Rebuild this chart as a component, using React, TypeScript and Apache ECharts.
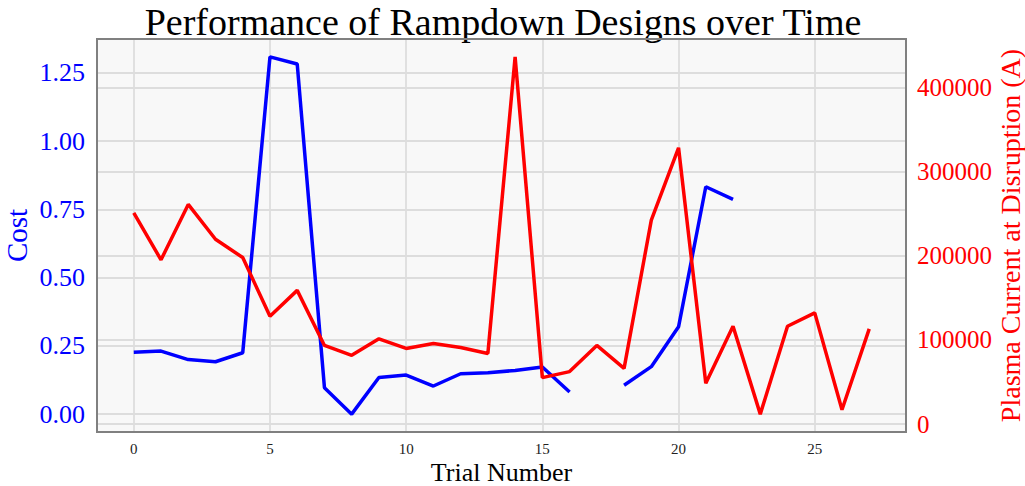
import React, { useEffect, useRef } from "react";
import * as echarts from "echarts";

const trials = [0, 1, 2, 3, 4, 5, 6, 7, 8, 9, 10, 11, 12, 13, 14, 15, 16, 17, 18, 19, 20, 21, 22, 23, 24, 25, 26, 27];
const costValues: (number | null)[] = [
  0.227, 0.231, 0.2, 0.192, 0.225, 1.309, 1.283, 0.097, 0.0, 0.134, 0.143, 0.103, 0.148, 0.152, 0.16, 0.173, 0.081,
  null, 0.106, 0.174, 0.32, 0.833, 0.787,
];
const currentValues = [
  251200, 195300, 261200, 219800, 198000, 128200, 159000, 93500, 81700, 101400, 89900, 95900, 91000, 84000, 436700,
  55200, 62400, 93500, 66300, 242600, 328600, 48500, 116300, 11800, 116300, 132200, 17000, 113200,
];
const xTicks = [0, 5, 10, 15, 20, 25];
const costTicks = [0, 0.25, 0.5, 0.75, 1.0, 1.25];
const currentTicks = [0, 100000, 200000, 300000, 400000];

const TITLE = "Performance of Rampdown Designs over Time";
const FONT = "'Liberation Serif', 'DejaVu Serif', serif";

function padRange(vals: number[]) {
  const lo = Math.min(...vals);
  const hi = Math.max(...vals);
  const m = (hi - lo) * 0.05;
  return [lo - m, hi + m];
}

export default function App() {
  const ref = useRef<HTMLDivElement>(null);
  useEffect(() => {
    document.body.style.margin = "0";
    if (!ref.current) return;
    const chart = echarts.init(ref.current, undefined, { renderer: "svg" });
    const xr = padRange(trials);
    const cr = padRange(costValues.filter((v) => v !== null) as number[]);
    const pr = padRange(currentValues);
    const gridLeft = 97, gridTop = 39, gridRight = 119, gridBottom = 54;
    const W = 1025, H = 486;
    const near = (v: number, list: number[]) => list.some((t) => Math.abs(t - v) < 1e-6);
    const gridLine = { show: true, lineStyle: { color: "#dddddd", width: 1.8 } };
    chart.setOption({
      animation: false,
      backgroundColor: "#ffffff",
      textStyle: { fontFamily: FONT },
      title: {
        text: TITLE,
        left: 498,
        top: -2,
        textAlign: "center",
        textStyle: { fontFamily: FONT, fontSize: 38, fontWeight: "normal", color: "#000" },
      },
      grid: {
        left: gridLeft,
        top: gridTop,
        right: gridRight,
        bottom: gridBottom,
        outerBoundsMode: "none",
        containLabel: false,
        show: true,
        backgroundColor: "#f8f8f8",
        borderWidth: 0,
      },
      xAxis: {
        type: "value",
        min: xr[0],
        max: xr[1],
        minInterval: 5,
        maxInterval: 5,
        axisLine: { show: false },
        axisTick: { show: false },
        axisLabel: {
          fontFamily: FONT,
          fontSize: 15,
          color: "#222",
          margin: 9,
          showMinLabel: false,
          showMaxLabel: false,
          formatter: (v: number) => (near(v, xTicks) ? String(Math.round(v)) : ""),
        },
        splitLine: gridLine,
        name: "Trial Number",
        nameLocation: "middle",
        nameGap: 27,
        nameMoveOverlap: false,
        nameTextStyle: { fontFamily: FONT, fontSize: 26, color: "#000" },
      },
      yAxis: [
        {
          type: "value",
          position: "left",
          min: cr[0],
          max: cr[1],
          minInterval: 0.25,
          maxInterval: 0.25,
          axisLine: { show: false },
          axisTick: { show: false },
          axisLabel: {
            fontFamily: FONT,
            fontSize: 26,
            color: "#0000ff",
            margin: 12,
            showMinLabel: false,
            showMaxLabel: false,
            formatter: (v: number) => (near(v, costTicks) ? v.toFixed(2) : ""),
          },
          splitLine: gridLine,
          name: "Cost",
          nameLocation: "middle",
          nameRotate: 90,
          nameGap: 66,
          nameMoveOverlap: false,
          nameTextStyle: { fontFamily: FONT, fontSize: 29, color: "#0000ff" },
        },
        {
          type: "value",
          position: "right",
          min: pr[0],
          max: pr[1],
          minInterval: 100000,
          maxInterval: 100000,
          axisLine: { show: false },
          axisTick: { show: false },
          axisLabel: {
            fontFamily: FONT,
            fontSize: 25,
            color: "#ff0000",
            margin: 11,
            showMinLabel: false,
            showMaxLabel: false,
            formatter: (v: number) => (near(v, currentTicks) ? String(Math.round(v)) : ""),
          },
          splitLine: gridLine,
          name: "Plasma Current at Disruption (A)",
          nameLocation: "middle",
          nameRotate: 90,
          nameGap: 90,
          nameMoveOverlap: false,
          nameTextStyle: { fontFamily: FONT, fontSize: 28, color: "#ff0000" },
        },
      ],
      graphic: [
        {
          type: "rect",
          z: 100,
          silent: true,
          shape: { x: gridLeft, y: gridTop, width: W - gridLeft - gridRight, height: H - gridTop - gridBottom },
          style: { fill: "none", stroke: "#808080", lineWidth: 2 },
        },
      ],
      series: [
        {
          name: "Cost",
          type: "line",
          yAxisIndex: 0,
          showSymbol: false,
          connectNulls: false,
          lineStyle: { color: "#0000ff", width: 3.5 },
          itemStyle: { color: "#0000ff" },
          data: costValues.map((v, i) => [trials[i], v === null ? "-" : v]),
          z: 3,
        },
        {
          name: "Plasma Current",
          type: "line",
          yAxisIndex: 1,
          showSymbol: false,
          lineStyle: { color: "#ff0000", width: 3.5 },
          itemStyle: { color: "#ff0000" },
          data: currentValues.map((v, i) => [trials[i], v]),
          z: 4,
        },
      ],
    });
    return () => chart.dispose();
  }, []);
  return <div ref={ref} style={{ width: 1025, height: 486 }} />;
}
